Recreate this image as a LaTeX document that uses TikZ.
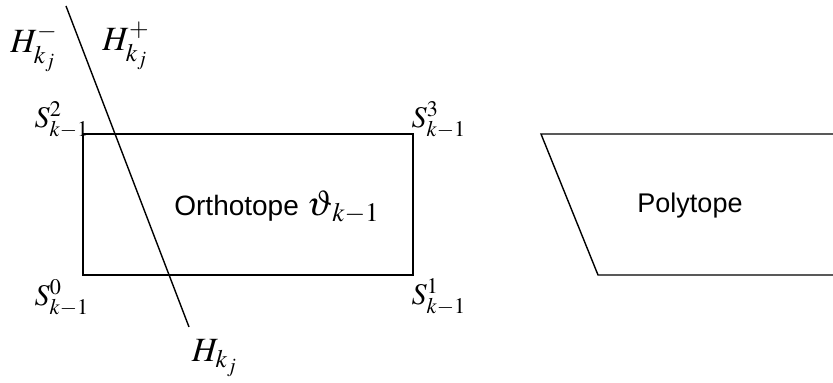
\documentclass[tikz,border=0pt]{standalone}
\usepackage{mathptmx}
\usepackage{fontspec}
\setsansfont{Liberation Sans}

\begin{document}
\begin{tikzpicture}[x=0.5pt, y=-0.5pt, line width=0.7pt]
        \useasboundingbox (0,0) rectangle (833,383);

        % --- Corner points ---
        \coordinate (s0) at (83,275);
        \coordinate (s1) at (413,275);
        \coordinate (s2) at (83,134);
        \coordinate (s3) at (413,134);
        \coordinate (htop) at (66,6);
        \coordinate (hbot) at (189,327);

        % --- Orthotope (rectangle) ---
        \draw (s0) -- (s1) -- (s3) -- (s2) -- cycle;

        % --- Polytope (runs off the right edge) ---
        \coordinate (p0) at (598,275);
        \coordinate (p1) at (541,134);
        \coordinate (p2) at (840,134);
        \coordinate (p3) at (840,275);
        \draw (p3) -- (p0) -- (p1) -- (p2);

        % --- Hyperplane ---
        \draw (htop) -- (hbot);

        % --- Hyperplane labels ---
        \node[font=\fontsize{17}{20}\selectfont] (hminus) at (34,48) {$H^-_{k_j}$};
        \node[font=\fontsize{17}{20}\selectfont] (hplus)  at (126,46) {$H^+_{k_j}$};
        \node[font=\fontsize{17}{20}\selectfont] (hlab)   at (215,358) {$H_{k_j}$};

        % --- Vertex labels ---
        \node[font=\fontsize{15}{18}\selectfont] (l2) at (62,120) {$S^2_{k-1}$};
        \node[font=\fontsize{15}{18}\selectfont] (l3) at (439,120) {$S^3_{k-1}$};
        \node[font=\fontsize{15}{18}\selectfont] (l0) at (62,298) {$S^0_{k-1}$};
        \node[font=\fontsize{15}{18}\selectfont] (l1) at (439,297) {$S^1_{k-1}$};

        % --- Shape labels ---
        \node[font=\sffamily\fontsize{14}{16}\selectfont] (orth) at (277,207)
            {Orthotope {\fontsize{18}{20}\selectfont$\vartheta_{\,k-1}$}};
        \node[font=\sffamily\fontsize{13.5}{16}\selectfont] (poly) at (690,206) {Polytope};
    \end{tikzpicture}
\end{document}
